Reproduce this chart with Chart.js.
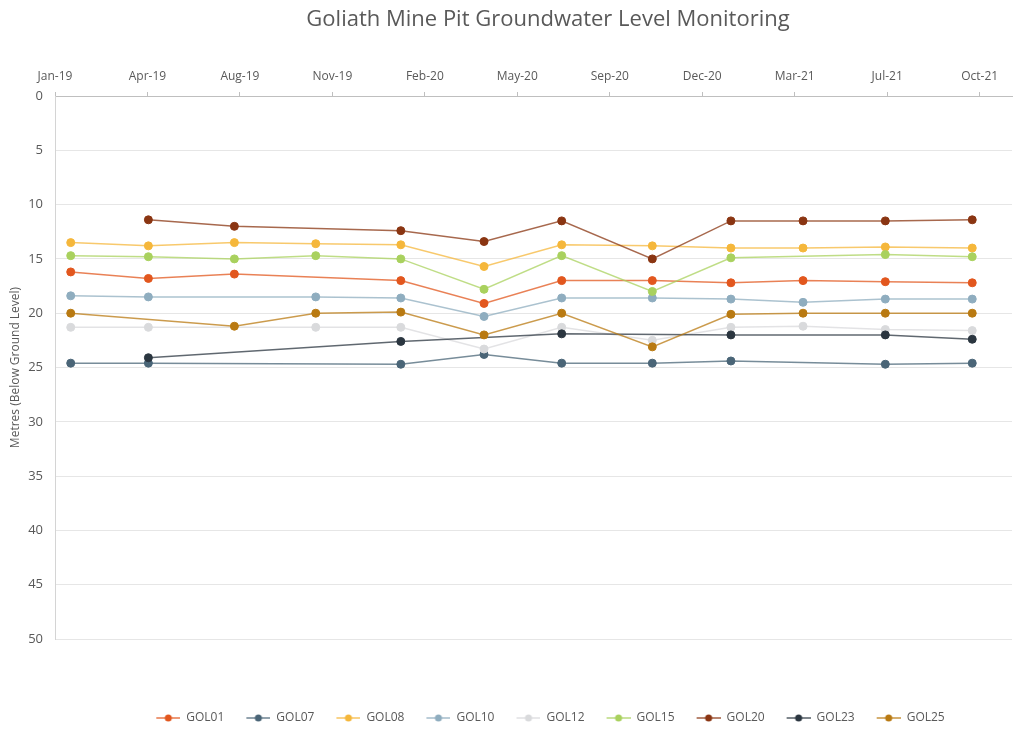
<!DOCTYPE html>
<html>
<head>
<meta charset="utf-8">
<title>Goliath Mine Pit Groundwater Level Monitoring</title>
<script src="https://cdn.jsdelivr.net/npm/chart.js@4.4.1/dist/chart.umd.min.js"></script>
<style>
    html, body { margin: 0; padding: 0; background: #fff; }
    #wrap { width: 1025px; height: 729px; }
</style>
</head>
<body>
<div id="wrap"><canvas id="myChart" width="1025" height="729"></canvas></div>
<script>
// Sampling rounds
var sampleDates = ['2019-02-01', '2019-04-26', '2019-07-28', '2019-10-24', '2020-01-24', '2020-04-23',
                   '2020-07-16', '2020-10-22', '2021-01-15', '2021-04-03', '2021-07-01', '2021-10-03'];

// Date axis: one tick every 100 days from the axis start
var axisStart = '2019-01-15';
var tickStep = 100;
var axisSpan = 1035;
var tickLabels = ['Jan-19', 'Apr-19', 'Aug-19', 'Nov-19', 'Feb-20', 'May-20',
                  'Sep-20', 'Dec-20', 'Mar-21', 'Jul-21', 'Oct-21'];

// Water level, metres below ground level (null = bore not read)
var gol01 = [16.2, 16.8, 16.4, null, 17.0, 19.1, 17.0, 17.0, 17.2, 17.0, 17.1, 17.2];
var gol07 = [24.6, 24.6, null, null, 24.7, 23.8, 24.6, 24.6, 24.4, null, 24.7, 24.6];
var gol08 = [13.5, 13.8, 13.5, 13.6, 13.7, 15.7, 13.7, 13.8, 14.0, 14.0, 13.9, 14.0];
var gol10 = [18.4, 18.5, null, 18.5, 18.6, 20.3, 18.6, 18.6, 18.7, 19.0, 18.7, 18.7];
var gol12 = [21.3, 21.3, null, 21.3, 21.3, 23.3, 21.3, 22.5, 21.3, 21.2, 21.5, 21.6];
var gol15 = [14.7, 14.8, 15.0, 14.7, 15.0, 17.8, 14.7, 18.0, 14.9, null, 14.6, 14.8];
var gol20 = [null, 11.4, 12.0, null, 12.4, 13.4, 11.5, 15.0, 11.5, 11.5, 11.5, 11.4];
var gol23 = [null, 24.1, null, null, 22.6, null, 21.9, null, 22.0, null, 22.0, 22.4];
var gol25 = [20.0, null, 21.2, 20.0, 19.9, 22.0, 20.0, 23.1, 20.1, 20.0, 20.0, 20.0];

var boreNames = ['GOL01', 'GOL07', 'GOL08', 'GOL10', 'GOL12', 'GOL15', 'GOL20', 'GOL23', 'GOL25'];
var boreValues = [gol01, gol07, gol08, gol10, gol12, gol15, gol20, gol23, gol25];
var boreColors = ['#E2571E', '#4A6577', '#F5B73B', '#8FADBF', '#D9DADC', '#A9D15E', '#8A3512', '#2B3640', '#B97A12'];

var textColor = '#595959';
var fontName = '"Open Sans", "DejaVu Sans", sans-serif';

function dayNum(s) {
    return Date.parse(s + 'T00:00:00Z') / 86400000;
}

function fade(hex, a) {
    var n = parseInt(hex.slice(1), 16);
    return 'rgba(' + (n >> 16) + ',' + ((n >> 8) & 255) + ',' + (n & 255) + ',' + a + ')';
}

// little line-with-dot swatch for the legend
function legendIcon(color) {
    var c = document.createElement('canvas');
    c.width = 40;
    c.height = 10;
    var g = c.getContext('2d');
    g.strokeStyle = fade(color, 0.8);
    g.lineWidth = 1.5;
    g.beginPath();
    g.moveTo(16, 5);
    g.lineTo(40, 5);
    g.stroke();
    g.fillStyle = color;
    g.beginPath();
    g.arc(28, 5, 3.5, 0, Math.PI * 2);
    g.fill();
    return c;
}

var startDay = dayNum(axisStart);
var icons = boreColors.map(legendIcon);

var datasets = boreNames.map(function (name, i) {
    return {
        label: name,
        data: sampleDates.map(function (d, j) {
            return { x: dayNum(d), y: boreValues[i][j] };
        }),
        borderColor: fade(boreColors[i], 0.75),
        backgroundColor: boreColors[i],
        pointBackgroundColor: boreColors[i],
        pointBorderColor: boreColors[i],
        pointRadius: 4,
        pointBorderWidth: 1,
        borderWidth: 1.5,
        spanGaps: true,
        // later series sit on top, like the spreadsheet
        order: boreNames.length - i
    };
});

// title and legend sit a bit right of the canvas centre
var nudgeBlocks = {
    id: 'nudgeBlocks',
    afterLayout: function (chart) {
        if (chart.titleBlock) {
            chart.titleBlock.left += 42;
            chart.titleBlock.right += 42;
        }
        if (chart.legend) {
            chart.legend.left += 9;
            chart.legend.right += 9;
        }
    }
};

var ctx = document.getElementById('myChart');
var chart = new Chart(ctx, {
    type: 'line',
    data: { datasets: datasets },
    plugins: [nudgeBlocks],
    options: {
        responsive: false,
        animation: false,
        layout: { padding: { left: 0, right: 13, top: 0, bottom: -5 } },
        plugins: {
            title: {
                display: true,
                text: 'Goliath Mine Pit Groundwater Level Monitoring',
                color: textColor,
                font: { family: fontName, size: 22, weight: 'normal' },
                padding: { top: 7, bottom: 8.6 }
            },
            legend: {
                position: 'bottom',
                fullSize: false,
                labels: {
                    usePointStyle: true,
                    pointStyleWidth: 40,
                    padding: 6,
                    color: textColor,
                    font: { family: fontName, size: 12 },
                    generateLabels: function (chart) {
                        return chart.data.datasets.map(function (ds, i) {
                            return {
                                text: ds.label,
                                fillStyle: ds.backgroundColor,
                                strokeStyle: ds.backgroundColor,
                                lineWidth: 0,
                                pointStyle: icons[i],
                                fontColor: textColor,
                                hidden: !chart.isDatasetVisible(i),
                                datasetIndex: i
                            };
                        });
                    }
                }
            },
            tooltip: { enabled: false }
        },
        scales: {
            x: {
                type: 'linear',
                position: 'top',
                min: startDay,
                max: startDay + axisSpan,
                afterBuildTicks: function (scale) {
                    scale.ticks = tickLabels.map(function (_, i) {
                        return { value: startDay + i * tickStep };
                    });
                },
                afterFit: function (scale) { scale.height = 54; },
                grid: { drawOnChartArea: false, drawTicks: true, tickLength: 4, color: '#bfbfbf' },
                border: { color: '#bfbfbf' },
                ticks: {
                    autoSkip: false,
                    maxRotation: 0,
                    padding: 8,
                    color: textColor,
                    font: { family: fontName, size: 12 },
                    callback: function (value, index) { return tickLabels[index]; }
                }
            },
            // empty strip between the plot and the legend
            gap: {
                axis: 'x',
                type: 'linear',
                position: 'bottom',
                grid: { display: false },
                border: { display: false },
                ticks: { display: false },
                afterFit: function (scale) { scale.height = 67; }
            },
            y: {
                reverse: true,
                min: 0,
                max: 50,
                afterFit: function (scale) { scale.width = 55; },
                grid: { color: '#e6e6e6', drawTicks: false },
                border: { color: '#d4d4d4' },
                ticks: {
                    stepSize: 5,
                    padding: 12,
                    color: textColor,
                    font: { family: fontName, size: 13 }
                },
                title: {
                    display: true,
                    text: 'Metres (Below Ground Level)',
                    color: textColor,
                    font: { family: fontName, size: 12 },
                    padding: { top: 8, bottom: 0 }
                }
            }
        }
    }
});
</script>
</body>
</html>
